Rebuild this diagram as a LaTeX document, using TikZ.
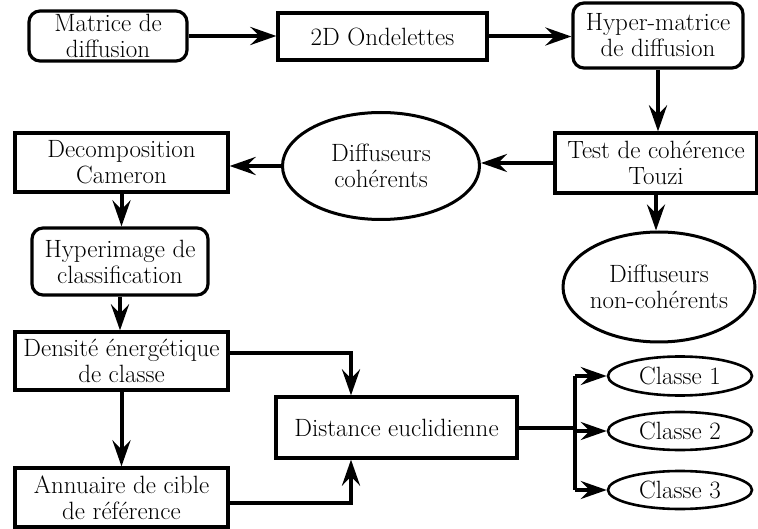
\documentclass[tikz,border=0pt]{standalone}
\usepackage{fontspec}
\usetikzlibrary{arrows.meta,shapes.geometric}
\begin{document}
\begin{tikzpicture}[x=1pt,y=-1pt,
  box/.style={draw, line width=3.2pt, inner sep=0pt, align=center, font=\fontsize{25}{26}\selectfont},
  rbox/.style={box, rounded corners=11pt},
  ell/.style={draw, ellipse, line width=3pt, inner sep=0pt, align=center, font=\fontsize{25}{26}\selectfont},
  arr/.style={line width=4pt, -{Stealth[length=26pt,width=18pt,inset=9pt]}},
  seg/.style={line width=4pt}]
\useasboundingbox (0,0) rectangle (758,529);
\node[rbox, minimum width=158pt, minimum height=50pt] (m) at (108,36) {Matrice de\\diffusion};
\node[box, minimum width=209pt, minimum height=47pt] (o) at (382.5,36.5) {2D Ondelettes};
\node[rbox, minimum width=170pt, minimum height=65pt] (h) at (658,35.5) {Hyper-matrice\\de diffusion};
\node[box, minimum width=202pt, minimum height=60pt] (t) at (656,163) {Test de cohérence\\Touzi};
\node[ell, minimum width=197pt, minimum height=107pt] (dc) at (381,166) {Diffuseurs\\cohérents};
\node[box, minimum width=213pt, minimum height=59pt] (dec) at (121.5,162.5) {Decomposition\\Cameron};
\node[rbox, minimum width=176pt, minimum height=67pt] (hy) at (120,261.5) {Hyperimage de\\classification};
\node[ell, inner sep=-12pt, minimum width=192pt, minimum height=110pt] (dnc) at (659,287) {Diffuseurs\\non-cohérents};
\node[box, minimum width=213pt, minimum height=58pt] (den) at (121.5,361) {Densité énergétique\\de classe};
\node[box, minimum width=213pt, minimum height=59pt] (ann) at (121.5,497.5) {Annuaire de cible\\de référence};
\node[box, minimum width=241pt, minimum height=61pt] (dist) at (396.5,427.5) {Distance euclidienne};
\node[ell, line width=2.6pt, minimum width=144pt, minimum height=39pt] (c1) at (680,376) {Classe 1};
\node[ell, line width=2.6pt, minimum width=144pt, minimum height=38pt] (c2) at (680,431) {Classe 2};
\node[ell, line width=2.6pt, minimum width=144pt, minimum height=38pt] (c3) at (680,490) {Classe 3};
\draw[arr] (m.east) -- (m.east -| o.west);
\draw[arr] (o.east) -- (o.east -| h.west);
\draw[arr] (h.south) -- (h.south |- t.north);
\draw[arr] (t.west) -- (t.west -| dc.east);
\draw[arr] (dc.west) -- (dc.west -| dec.east);
\draw[arr] (dec.south) -- (dec.south |- hy.north);
\draw[arr] (hy.south) -- (hy.south |- den.north);
\draw[arr] (t.south) -- (t.south |- dnc.north);
\draw[arr] (den.south) -- (den.south |- ann.north);
\coordinate (dj) at (351,353);
\coordinate (aj) at (351,503);
\draw[arr] (den.east |- dj) -- (dj) -- (dj |- dist.north);
\draw[arr] (ann.east |- aj) -- (aj) -- (aj |- dist.south);
\coordinate (br) at (575,430);
\draw[seg] (dist.east) -- (dist.east -| br);
\draw[seg] (br |- c1.west) -- (br |- c3.west);
\draw[arr] (br |- c1.west) -- (c1.west);
\draw[arr] (br |- c2.west) -- (c2.west);
\draw[arr] (br |- c3.west) -- (c3.west);
\end{tikzpicture}
\end{document}
